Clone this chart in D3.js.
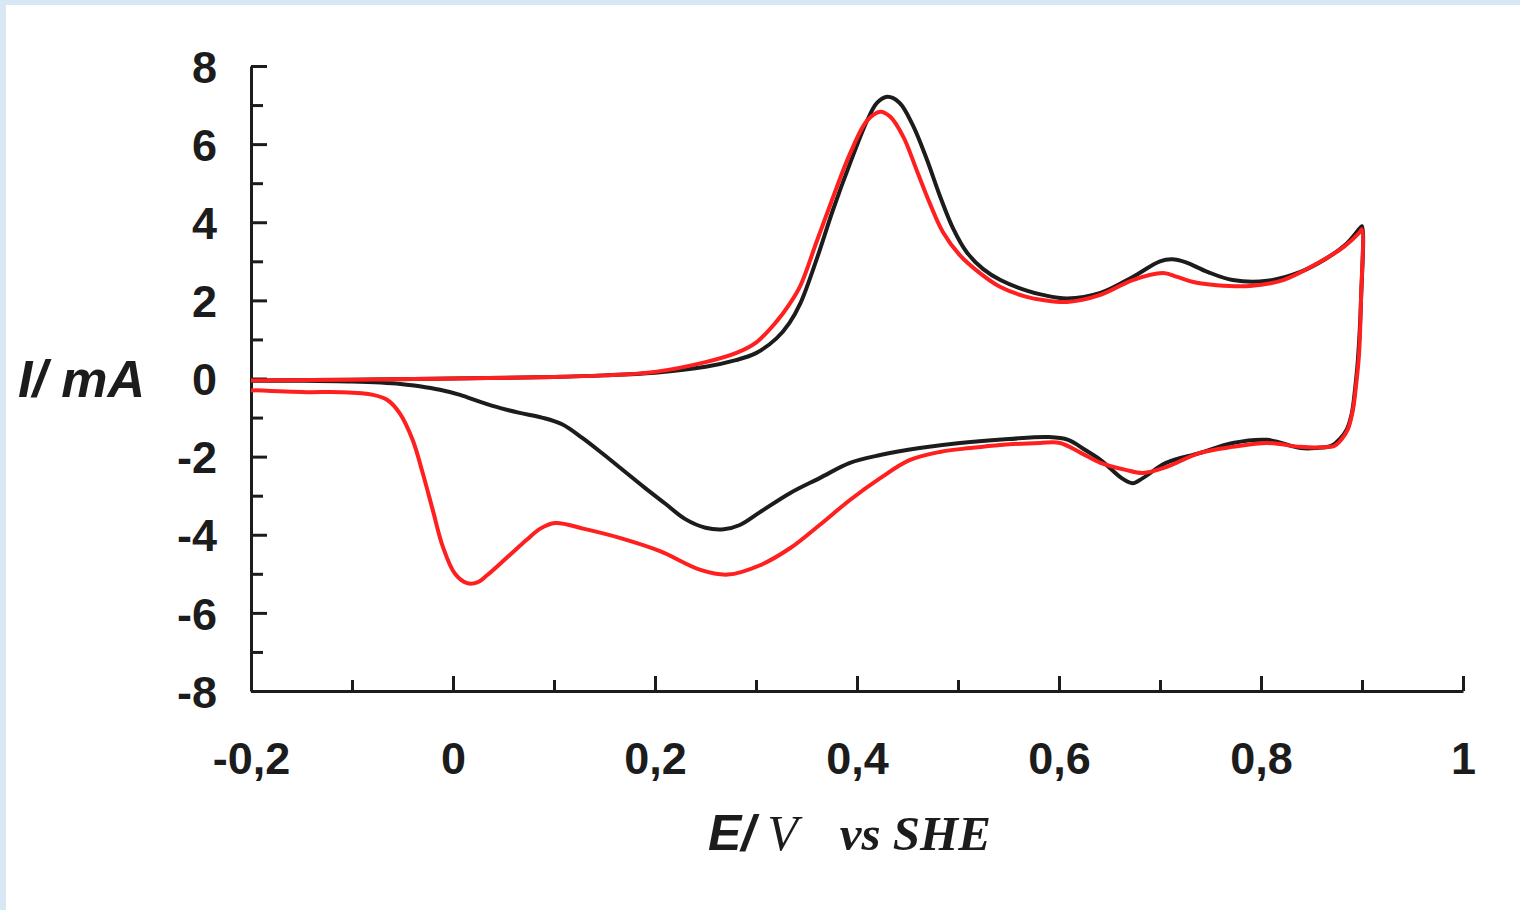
<!DOCTYPE html>
<html>
<head>
<meta charset="utf-8">
<script src="https://cdn.jsdelivr.net/npm/d3@7"></script>
<style>
  html, body { margin: 0; padding: 0; background: #d9e7f4; }
  svg { display: block; }
</style>
</head>
<body>
<div id="chart"></div>
<script>
// cyclic voltammograms, [E (V vs SHE), I (mA)]
var blackForward = [
  [-0.2, -0.05], [-0.1, -0.03], [0.0, 0.0], [0.1, 0.04], [0.15, 0.08], [0.2, 0.15],
  [0.25, 0.3], [0.28, 0.47], [0.30, 0.65], [0.32, 1.02], [0.333, 1.42], [0.344, 1.93],
  [0.360, 3.05], [0.376, 4.3], [0.393, 5.5], [0.410, 6.6], [0.420, 7.06], [0.430, 7.21],
  [0.442, 7.06], [0.455, 6.5], [0.469, 5.62], [0.482, 4.68], [0.495, 3.85], [0.509, 3.22],
  [0.525, 2.8], [0.542, 2.52], [0.568, 2.25], [0.584, 2.14], [0.608, 2.05], [0.641, 2.19],
  [0.673, 2.6], [0.70, 3.0], [0.712, 3.05], [0.725, 2.98], [0.747, 2.73], [0.772, 2.52],
  [0.806, 2.5], [0.839, 2.73], [0.865, 3.08], [0.885, 3.46], [0.898, 3.85], [0.9, 3.9]
];
var blackReverse = [
  [0.9, 3.9], [0.899, 2.0], [0.896, 0.5], [0.893, -0.3], [0.89, -0.88], [0.885, -1.3],
  [0.878, -1.55], [0.87, -1.72], [0.855, -1.78], [0.839, -1.78], [0.806, -1.57], [0.772, -1.65],
  [0.739, -1.91], [0.706, -2.16], [0.683, -2.55], [0.673, -2.68], [0.662, -2.55], [0.642, -2.1],
  [0.626, -1.83], [0.609, -1.57], [0.590, -1.5], [0.55, -1.55], [0.502, -1.65], [0.462, -1.78],
  [0.423, -1.96], [0.393, -2.16], [0.363, -2.55], [0.334, -2.93], [0.304, -3.42], [0.284, -3.75],
  [0.268, -3.86], [0.25, -3.82], [0.23, -3.6], [0.21, -3.2], [0.19, -2.8], [0.17, -2.38],
  [0.148, -1.92], [0.128, -1.52], [0.108, -1.17], [0.088, -1.0], [0.066, -0.88], [0.047, -0.76],
  [0.027, -0.6], [0.007, -0.42], [-0.013, -0.29], [-0.033, -0.2], [-0.052, -0.14], [-0.1, -0.08],
  [-0.15, -0.06], [-0.2, -0.06]
];
var redForward = [
  [-0.2, -0.05], [-0.1, -0.03], [0.0, 0.0], [0.1, 0.04], [0.15, 0.08], [0.2, 0.17],
  [0.25, 0.42], [0.28, 0.65], [0.30, 0.92], [0.32, 1.45], [0.333, 1.9], [0.344, 2.38],
  [0.360, 3.5], [0.376, 4.62], [0.393, 5.75], [0.410, 6.6], [0.423, 6.83], [0.433, 6.7],
  [0.446, 6.18], [0.459, 5.34], [0.472, 4.49], [0.485, 3.75], [0.502, 3.15], [0.522, 2.69],
  [0.542, 2.34], [0.568, 2.09], [0.584, 2.01], [0.608, 1.96], [0.641, 2.14], [0.673, 2.52],
  [0.703, 2.7], [0.717, 2.6], [0.733, 2.47], [0.756, 2.39], [0.789, 2.37], [0.822, 2.52],
  [0.856, 2.95], [0.882, 3.37], [0.898, 3.75], [0.9, 3.82]
];
var redReverse = [
  [0.9, 3.82], [0.899, 2.0], [0.897, 0.6], [0.894, -0.2], [0.891, -0.8], [0.886, -1.3],
  [0.88, -1.55], [0.873, -1.72], [0.86, -1.76], [0.839, -1.75], [0.806, -1.65], [0.772, -1.75],
  [0.739, -1.91], [0.706, -2.27], [0.683, -2.42], [0.666, -2.34], [0.641, -2.16], [0.622, -1.91],
  [0.601, -1.65], [0.581, -1.65], [0.542, -1.7], [0.512, -1.78], [0.482, -1.88], [0.452, -2.09],
  [0.423, -2.55], [0.393, -3.11], [0.363, -3.75], [0.334, -4.34], [0.304, -4.78], [0.272, -5.02],
  [0.245, -4.9], [0.205, -4.42], [0.165, -4.08], [0.13, -3.85], [0.101, -3.7], [0.086, -3.85],
  [0.073, -4.13], [0.054, -4.57], [0.034, -5.03], [0.024, -5.22], [0.014, -5.24], [0.002, -5.0],
  [-0.01, -4.31], [-0.02, -3.37], [-0.03, -2.42], [-0.04, -1.57], [-0.053, -0.88], [-0.065, -0.55],
  [-0.079, -0.42], [-0.112, -0.35], [-0.145, -0.35], [-0.2, -0.3]
];

var xMajor = [-0.2, 0, 0.2, 0.4, 0.6, 0.8, 1];
var xMinor = [-0.1, 0.1, 0.3, 0.5, 0.7, 0.9];
var yMajor = [-8, -6, -4, -2, 0, 2, 4, 6, 8];
var yMinor = [-7, -5, -3, -1, 1, 3, 5, 7];

var W = 1520, H = 910;
var ink = '#1c1c1c';

var svg = d3.select('#chart').append('svg')
  .attr('width', W)
  .attr('height', H);

// white sheet over the blue page
svg.append('rect')
  .attr('x', 6).attr('y', 5)
  .attr('width', W - 6).attr('height', H - 5)
  .attr('fill', '#ffffff');

var x = d3.scaleLinear().domain([-0.2, 1]).range([251, 1463]);
var y = d3.scaleLinear().domain([-8, 8]).range([691, 66]);

var fmtX = function(d) { return String(+d.toFixed(1)).replace('.', ','); };
var fmtY = function(d) { return String(d); };

var styleAxis = function(g) {
  g.selectAll('path, line')
    .attr('stroke', ink)
    .attr('stroke-width', 3);
  g.selectAll('text')
    .attr('fill', ink)
    .style('font-family', '"Liberation Sans", Arial, sans-serif')
    .style('font-weight', 'bold')
    .style('font-size', '45px');
};

// minor ticks first, then the major axes on top
svg.append('g')
  .attr('transform', 'translate(0,' + 691 + ')')
  .call(d3.axisBottom(x).tickValues(xMinor).tickSize(-11).tickSizeOuter(0).tickFormat(''))
  .call(styleAxis)
  .call(function(g) { g.select('.domain').remove(); });

svg.append('g')
  .attr('transform', 'translate(' + 251 + ',0)')
  .call(d3.axisLeft(y).tickValues(yMinor).tickSize(-12).tickSizeOuter(0).tickFormat(''))
  .call(styleAxis)
  .call(function(g) { g.select('.domain').remove(); });

svg.append('g')
  .attr('transform', 'translate(0,' + 691 + ')')
  .call(d3.axisBottom(x).tickValues(xMajor).tickSize(-15).tickSizeOuter(0).tickPadding(51).tickFormat(fmtX))
  .call(styleAxis);

svg.append('g')
  .attr('transform', 'translate(' + 251 + ',0)')
  .call(d3.axisLeft(y).tickValues(yMajor).tickSize(-16).tickSizeOuter(0).tickPadding(34).tickFormat(fmtY))
  .call(styleAxis)
  .call(function(g) { g.selectAll('text').attr('dy', '0.36em'); });

// curves
var line = d3.line()
  .x(function(d) { return x(d[0]); })
  .y(function(d) { return y(d[1]); })
  .curve(d3.curveCatmullRom.alpha(0.5));

var loops = [
  { name: 'black', color: '#1c1c1c', pts: blackForward.concat(blackReverse.slice(1)) },
  { name: 'red', color: '#ff1f1f', pts: redForward.concat(redReverse.slice(1)) }
];

svg.selectAll('path.cv')
  .data(loops)
  .enter()
  .append('path')
  .attr('class', 'cv')
  .attr('d', function(d) { return line(d.pts); })
  .attr('fill', 'none')
  .attr('stroke', function(d) { return d.color; })
  .attr('stroke-width', 4)
  .attr('stroke-linejoin', 'round');

// axis titles
svg.append('text')
  .attr('x', 18)
  .attr('y', 397)
  .attr('fill', ink)
  .style('font-family', '"Liberation Sans", Arial, sans-serif')
  .style('font-weight', 'bold')
  .style('font-style', 'italic')
  .style('font-size', '52px')
  .text('I/ mA');

var xt = svg.append('text')
  .attr('x', 708)
  .attr('y', 850)
  .attr('fill', ink);
xt.append('tspan')
  .style('font-family', '"Liberation Sans", Arial, sans-serif')
  .style('font-weight', 'bold')
  .style('font-style', 'italic')
  .style('font-size', '50px')
  .text('E/');
xt.append('tspan')
  .attr('dx', 12)
  .style('font-family', '"Liberation Serif", "Times New Roman", serif')
  .style('font-style', 'italic')
  .style('font-size', '50px')
  .text('V');
xt.append('tspan')
  .attr('dx', 42)
  .style('font-family', '"Liberation Serif", "Times New Roman", serif')
  .style('font-weight', 'bold')
  .style('font-style', 'italic')
  .style('font-size', '49px')
  .text('vs SHE');
</script>
</body>
</html>
